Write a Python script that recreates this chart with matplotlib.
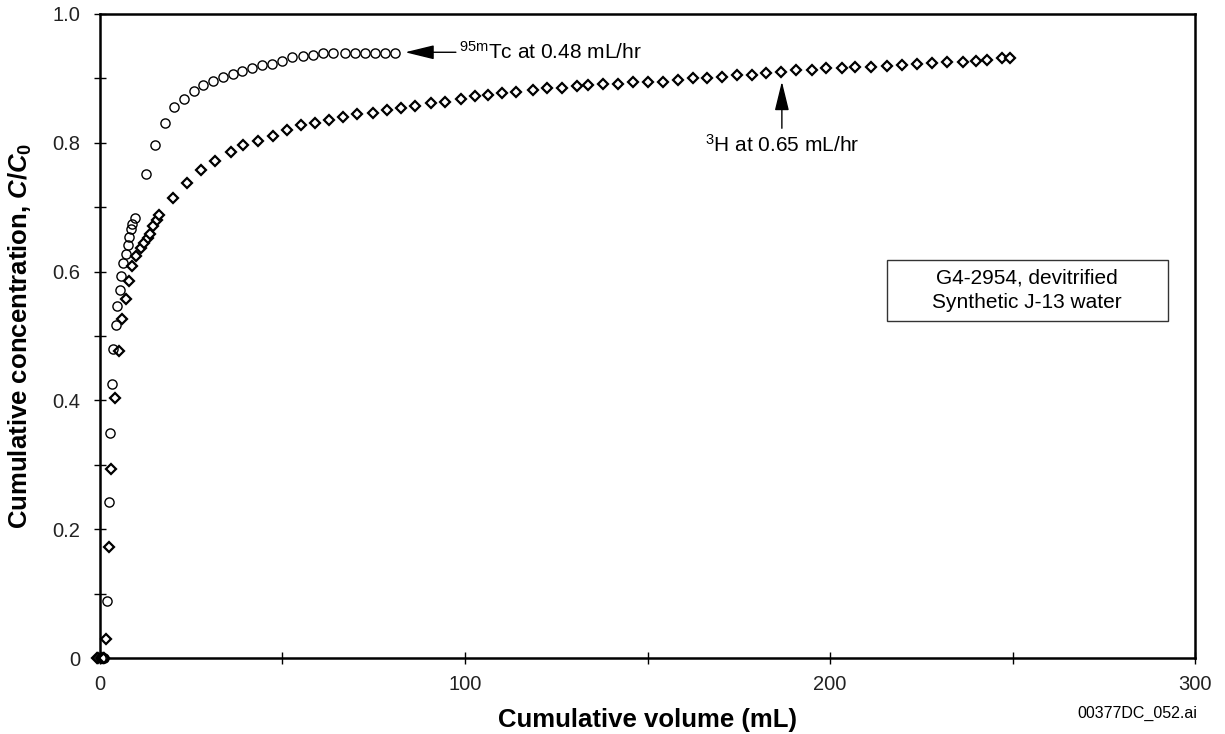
import matplotlib.pyplot as plt
from matplotlib.patches import Rectangle
from matplotlib.ticker import MultipleLocator, FuncFormatter

plt.rcParams['font.family'] = ['Liberation Sans', 'DejaVu Sans']
plt.rcParams['mathtext.fontset'] = 'custom'
plt.rcParams['mathtext.rm'] = 'Liberation Sans'
plt.rcParams['mathtext.bf'] = 'Liberation Sans:bold'
plt.rcParams['mathtext.it'] = 'Liberation Sans:bold:italic'

# 95mTc breakthrough (open circles)
tc_vol = [0.3, 0.6, 0.9, 1.2, 2.0, 2.5, 2.8, 3.4, 3.6, 4.3, 4.8, 5.5, 5.8, 6.3, 7.1,
          7.6, 8.0, 8.5, 8.9, 9.6, 12.6, 15.1, 17.8, 20.3, 23.1, 25.8, 28.3, 31.0,
          33.6, 36.5, 39.0, 41.7, 44.3, 47.0, 49.9, 52.5, 55.7, 58.4, 61.2, 63.9,
          67.1, 69.9, 72.6, 75.3, 78.1, 80.8]
tc_conc = [0, 0, 0, 0, 0.088, 0.242, 0.350, 0.425, 0.480, 0.517, 0.547, 0.572, 0.593,
           0.613, 0.628, 0.641, 0.654, 0.666, 0.674, 0.683, 0.751, 0.796, 0.831,
           0.855, 0.868, 0.881, 0.890, 0.896, 0.902, 0.907, 0.912, 0.916, 0.920,
           0.922, 0.927, 0.933, 0.935, 0.936, 0.939, 0.940, 0.940, 0.940, 0.939,
           0.939, 0.939, 0.939]

# 3H breakthrough (open diamonds)
h3_vol = [-0.8, -0.4, 0.4, 0.8, 1.1, 1.6, 2.5, 3.0, 4.0, 5.2, 6.0, 7.0, 8.0, 8.9, 10.0, 11.2,
          12.1, 13.1, 13.7, 14.6, 15.5, 16.3, 20.1, 23.8, 27.6, 31.5, 35.8, 39.3,
          43.4, 47.3, 51.1, 55.0, 58.9, 62.8, 66.7, 70.5, 74.9, 78.7, 82.6, 86.3,
          90.6, 94.5, 98.8, 102.7, 106.4, 110.0, 114.0, 118.5, 122.4, 126.5, 130.6,
          133.8, 137.7, 142.0, 145.9, 150.2, 154.3, 158.4, 162.4, 166.2, 170.3,
          174.4, 178.5, 182.5, 186.6, 190.7, 195.0, 198.9, 203.2, 206.8, 211.1,
          215.5, 219.6, 223.9, 227.9, 232.0, 236.4, 240.0, 242.9, 247.0, 249.3]
h3_conc = [0, 0, 0, 0, 0, 0.030, 0.173, 0.293, 0.403, 0.476, 0.527, 0.557, 0.586, 0.608,
           0.624, 0.636, 0.644, 0.652, 0.659, 0.670, 0.680, 0.688, 0.715, 0.738,
           0.758, 0.772, 0.786, 0.796, 0.803, 0.811, 0.820, 0.828, 0.831, 0.836,
           0.840, 0.844, 0.846, 0.851, 0.854, 0.857, 0.861, 0.864, 0.868, 0.873,
           0.874, 0.878, 0.879, 0.882, 0.885, 0.885, 0.888, 0.890, 0.891, 0.892,
           0.895, 0.895, 0.895, 0.898, 0.900, 0.900, 0.902, 0.905, 0.905, 0.908,
           0.910, 0.913, 0.913, 0.916, 0.916, 0.918, 0.918, 0.919, 0.921, 0.922,
           0.924, 0.926, 0.926, 0.927, 0.928, 0.931, 0.931]

fig = plt.figure(figsize=(12.25, 7.34), dpi=100)
ax = fig.add_axes([0.0816, 0.1035, 0.894, 0.8775])

ax.plot(h3_vol, h3_conc, linestyle='none', marker='D', ms=5.2, mfc='white',
        mec='black', mew=1.6, clip_on=False, zorder=3)
ax.plot(tc_vol, tc_conc, linestyle='none', marker='o', ms=6.6, mfc='none',
        mec='black', mew=1.0, clip_on=False, zorder=4)

ax.set_xlim(0, 300)
ax.set_ylim(0, 1.0)
ax.xaxis.set_major_locator(MultipleLocator(100))
ax.xaxis.set_minor_locator(MultipleLocator(50))
ax.yaxis.set_major_locator(MultipleLocator(0.2))
ax.yaxis.set_minor_locator(MultipleLocator(0.1))
ax.yaxis.set_major_formatter(FuncFormatter(lambda v, p: '0' if abs(v) < 1e-9 else f'{v:.1f}'))
ax.tick_params(which='both', direction='inout', length=8, width=1.0, color='black')
ax.tick_params(axis='x', labelsize=14.5, pad=8, labelcolor='#222222')
ax.tick_params(axis='y', labelsize=14.5, pad=10, labelcolor='#222222')

for s in ax.spines.values():
    s.set_linewidth(1.8)

ax.set_xlabel('Cumulative volume (mL)', fontsize=18.5, fontweight='bold', labelpad=10)
ax.set_ylabel(r'Cumulative concentration, $\mathit{C}$/$\mathit{C}_{\mathbf{0}}$',
              fontsize=18.5, fontweight='bold', labelpad=13)

# annotations
arrow = dict(arrowstyle='-|>,head_length=0.9,head_width=0.22', color='black', lw=1.0,
             mutation_scale=20, shrinkA=0, shrinkB=0)
ax.annotate('', xy=(83.6, 0.9405), xytext=(97.5, 0.9405), arrowprops=arrow)
ax.text(98.3, 0.9405, r'$^{\mathrm{95m}}$Tc at 0.48 mL/hr', fontsize=15, va='center', ha='left')

ax.annotate('', xy=(186.8, 0.895), xytext=(186.8, 0.8225), arrowprops=arrow)
ax.text(186.9, 0.797, r'$^{\mathrm{3}}$H at 0.65 mL/hr', fontsize=15, va='center', ha='center')

ax.add_patch(Rectangle((0.7185, 0.5233), 0.2563, 0.0947, transform=ax.transAxes,
                       fill=False, edgecolor='#333333', lw=1.0))
ax.text(0.7185 + 0.2563 / 2, 0.5233 + 0.0947 / 2, 'G4-2954, devitrified\nSynthetic J-13 water',
        transform=ax.transAxes, fontsize=15, ha='center', va='center', linespacing=1.35)

fig.text(0.977, 0.0286, '00377DC_052.ai', fontsize=11.5, ha='right', va='center')

fig.savefig('out.png', dpi=100)
